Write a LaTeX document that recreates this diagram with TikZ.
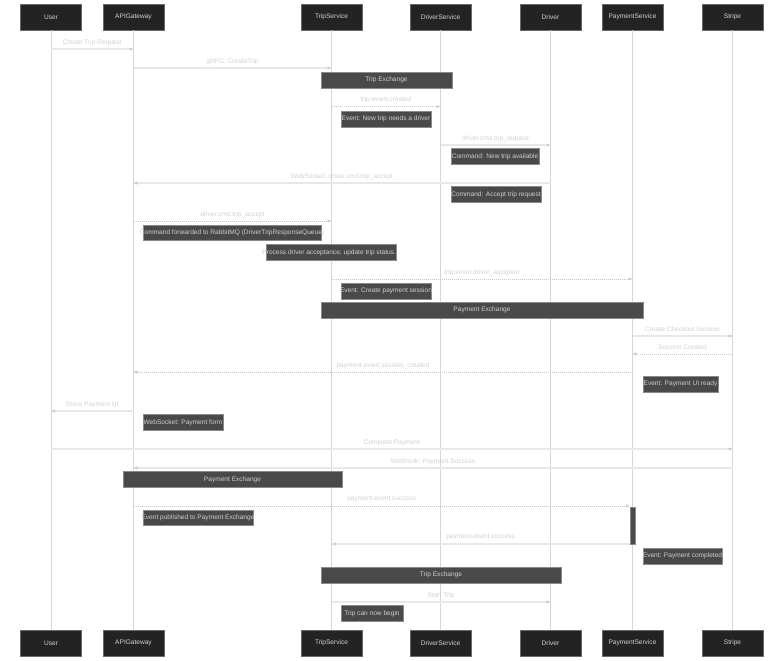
\documentclass[tikz,border=0pt]{standalone}
\usepackage{fontspec}
\setmainfont{Liberation Sans}
\usetikzlibrary{arrows.meta}
\definecolor{pbox}{HTML}{222322}
\definecolor{pborder}{HTML}{6A6A6A}
\definecolor{ptext}{HTML}{D4D4D4}
\definecolor{nfill}{HTML}{484948}
\definecolor{nborder}{HTML}{8A8A8A}
\definecolor{ntext}{HTML}{CFCFCF}
\definecolor{lifec}{HTML}{D6D6D6}
\definecolor{msgc}{HTML}{E8E8E8}
\definecolor{dotc}{HTML}{C8C8C8}
\definecolor{lblc}{HTML}{D2D2D2}
\definecolor{tipc}{HTML}{CCCCCC}
\tikzset{
  actor/.style={draw=pborder, line width=0.7bp, fill=pbox, text=ptext, minimum width=61bp, minimum height=26bp, inner sep=0pt, font=\fontsize{6.6}{7.5}\selectfont},
  life/.style={draw=lifec, line width=1bp},
  notebox/.style={draw=nborder, line width=0.6bp, fill=nfill, minimum height=16bp, inner sep=0pt},
  notetext/.style={text=ntext, inner sep=0pt, font=\fontsize{6.6}{7.5}\selectfont},
  msg/.style={draw=msgc, line width=1.3bp, -{Triangle[length=4bp,width=3bp,fill=tipc,color=tipc]}},
  dmsg/.style={draw=dotc, line width=0.8bp, dash pattern=on 1bp off 1bp, -{Triangle[length=4bp,width=3bp,fill=tipc,color=tipc]}},
  lbl/.style={text=lblc, inner sep=0pt, font=\fontsize{6.6}{7.5}\selectfont, yshift=6.5bp},
  actbar/.style={draw=nborder, line width=0.5bp, fill=nfill, minimum width=5bp, minimum height=37bp, inner sep=0pt}
}
\newcommand{\mynote}[6]{\node[notebox, minimum width=#4bp, minimum height=#5bp] (#1) at (#2,#3) {}; \node[notetext] at (#1) {#6};}
\begin{document}
\begin{tikzpicture}[x=1bp,y=-1bp]
\useasboundingbox[fill=white] (0,0) rectangle (784,661);
\node[actor] (uT) at (51,17) {User};
\node[actor] (aT) at (133.5,17) {APIGateway};
\node[actor] (tT) at (331.5,17) {TripService};
\node[actor] (dT) at (440.5,17) {DriverService};
\node[actor] (rT) at (550.5,17) {Driver};
\node[actor] (pT) at (632.5,17) {PaymentService};
\node[actor] (sT) at (732.5,17) {Stripe};
\node[actor] (uB) at (51,643) {User};
\node[actor] (aB) at (133.5,643) {APIGateway};
\node[actor] (tB) at (331.5,643) {TripService};
\node[actor] (dB) at (440.5,643) {DriverService};
\node[actor] (rB) at (550.5,643) {Driver};
\node[actor] (pB) at (632.5,643) {PaymentService};
\node[actor] (sB) at (732.5,643) {Stripe};
\foreach \n in {u,a,t,d,r,p,s} {\draw[life] (\n T.south) -- (\n B.north);}
% messages
\draw[msg] (uT |- 0,49) -- (aT |- 0,49) node[lbl, midway] {Create Trip Request};
\draw[msg] (aT |- 0,68) -- (tT |- 0,68) node[lbl, midway] {gRPC: CreateTrip};
\mynote{n1}{386.5}{80}{131}{16}{Trip Exchange}
\draw[dmsg] (tT |- 0,106.5) -- (dT |- 0,106.5) node[lbl, midway] {trip.event.created};
\mynote{n2}{386}{119}{90}{16}{Event: New trip needs a driver}
\draw[msg] (dT |- 0,145) -- (rT |- 0,145) node[lbl, midway] {driver.cmd.trip\_request};
\mynote{n3}{495}{156.5}{88}{15.5}{Command: New trip available}
\draw[msg] (rT |- 0,183) -- (aT |- 0,183) node[lbl, midway] {WebSocket: driver.cmd.trip\_accept};
\mynote{n4}{496}{194.5}{90}{15.5}{Command: Accept trip request}
\draw[dmsg] (aT |- 0,221) -- (tT |- 0,221) node[lbl, midway] {driver.cmd.trip\_accept};
\mynote{n5}{232}{233}{178}{15}{Command forwarded to RabbitMQ (DriverTripResponseQueue)}
\mynote{n6}{331}{252.5}{130}{15.5}{Process driver acceptance, update trip status...}
\draw[dmsg] (tT |- 0,279) -- (pT |- 0,279) node[lbl, midway] {trip.event.driver\_assigned};
\mynote{n7}{386}{291}{90}{16}{Event: Create payment session}
\mynote{n8}{482}{310}{322}{16}{Payment Exchange}
\draw[msg] (pT |- 0,336) -- (sT |- 0,336) node[lbl, midway] {Create Checkout Session};
\draw[dmsg] (sT |- 0,354) -- (pT |- 0,354) node[lbl, midway] {Session Created};
\draw[dmsg] (pT |- 0,372) -- (aT |- 0,372) node[lbl, midway] {payment.event.session\_created};
\mynote{n9}{680.5}{384}{75}{16}{Event: Payment UI ready}
\draw[msg] (aT |- 0,411) -- (uT |- 0,411) node[lbl, midway] {Show Payment UI};
\mynote{n10}{183}{422.5}{80}{15.5}{WebSocket: Payment form}
\draw[msg] (uT |- 0,449) -- (sT |- 0,449) node[lbl, midway] {Complete Payment};
\draw[msg] (sT |- 0,468) -- (aT |- 0,468) node[lbl, midway] {Webhook: Payment Success};
\mynote{n11}{232.5}{479.5}{219}{16}{Payment Exchange}
\node[actbar] (act) at (632.5,525.5) {};
\draw[dmsg] (aT |- 0,506) -- (act.west |- 0,506) node[lbl, midway] {payment.event.success};
\mynote{n12}{198}{518}{110}{15.5}{Event published to Payment Exchange}
\draw[msg] (act.west |- 0,544) -- (tT |- 0,544) node[lbl, midway] {payment.event.success};
\mynote{n13}{682.5}{556}{79}{16}{Event: Payment completed}
\mynote{n14}{441}{575}{240}{16}{Trip Exchange}
\draw[msg] (tT |- 0,602) -- (rT |- 0,602) node[lbl, midway] {Start Trip};
\mynote{n15}{372}{613.5}{62}{15.5}{Trip can now begin}
\end{tikzpicture}
\end{document}
